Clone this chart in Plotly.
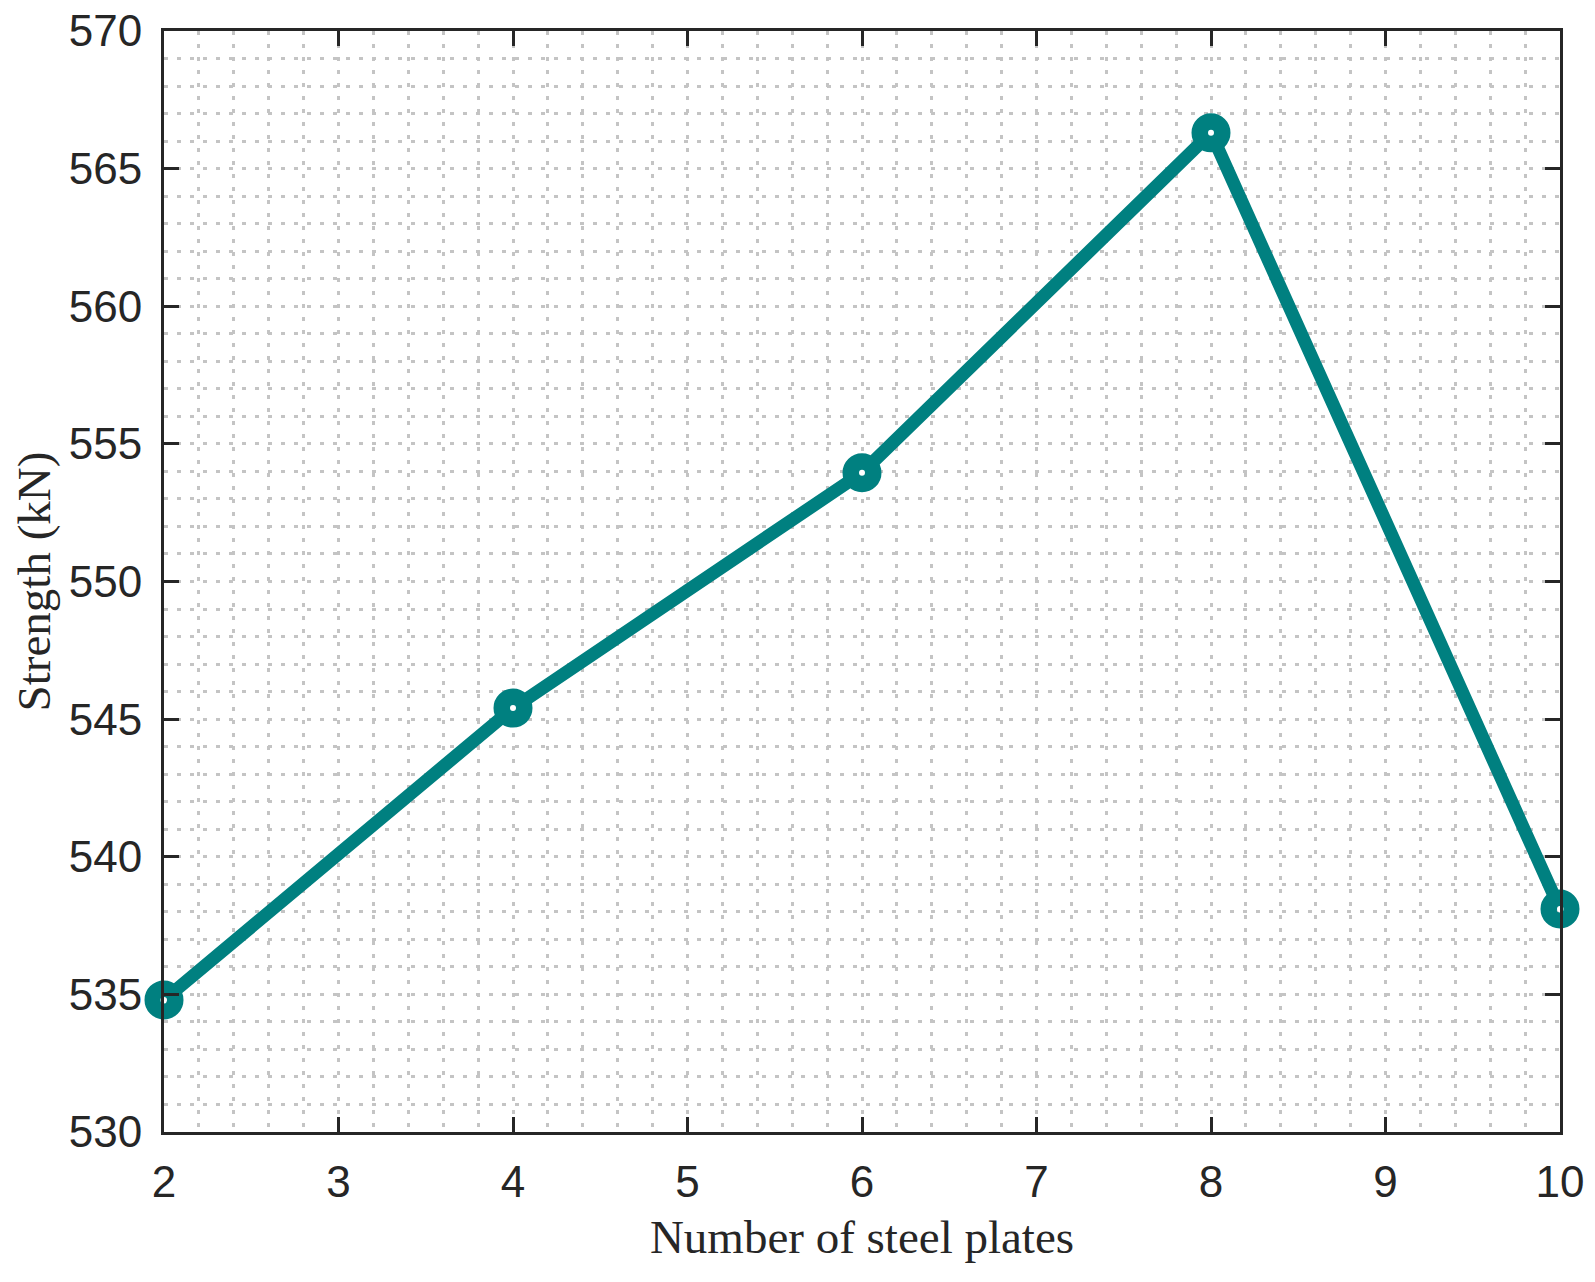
import plotly.graph_objects as go

plates = [2, 4, 6, 8, 10]
strength = [534.8, 545.4, 553.95, 566.3, 538.1]
x_ticks = [2, 3, 4, 5, 6, 7, 8, 9, 10]
y_ticks = [530, 535, 540, 545, 550, 555, 560, 565, 570]

teal = "#008080"
dark = "#262626"
grid = "#c4c4c4"

fig = go.Figure()
fig.add_trace(go.Scatter(
    x=plates, y=strength, mode="lines+markers",
    line=dict(color=teal, width=13),
    marker=dict(symbol="circle-open", size=23, color=teal,
                line=dict(color=teal, width=16)),
    cliponaxis=False, showlegend=False, hoverinfo="skip",
))
fig.add_trace(go.Scatter(
    x=plates, y=strength, mode="markers",
    marker=dict(symbol="circle", size=6, color="white", line=dict(width=0)),
    cliponaxis=False, showlegend=False, hoverinfo="skip",
))

axis_common = dict(
    showline=True, linewidth=3, linecolor=dark, mirror="ticks",
    ticks="inside", ticklen=15, tickwidth=2.5, tickcolor=dark,
    showgrid=True, gridcolor=grid, gridwidth=2.5, griddash="4px,9px",
    zeroline=False, automargin=False, ticklabeloverflow="allow",
    tickfont=dict(family="Liberation Sans, Arial, sans-serif", size=44, color=dark),
)

fig.update_xaxes(
    **axis_common,
    range=[2, 10], tickvals=x_ticks, ticktext=[str(v) for v in x_ticks],
    ticklabelstandoff=9,
    minor=dict(dtick=0.2, tick0=2, showgrid=True, gridcolor=grid, gridwidth=2.5,
               griddash="4px,9px", ticks=""),
    title=dict(text="Number of steel plates", standoff=16,
               font=dict(family="Liberation Serif, Times New Roman, serif", size=47, color=dark)),
)
fig.update_yaxes(
    **axis_common,
    range=[530, 570], tickvals=y_ticks, ticktext=[str(v) for v in y_ticks],
    ticklabelstandoff=10,
    minor=dict(dtick=1, tick0=530, showgrid=True, gridcolor=grid, gridwidth=2.5,
               griddash="4px,9px", ticks=""),
    title=dict(text="Strength (kN)", standoff=4,
               font=dict(family="Liberation Serif, Times New Roman, serif", size=47, color=dark)),
)

fig.update_layout(
    width=1595, height=1282,
    margin=dict(l=164, r=35, t=31, b=150),
    plot_bgcolor="white", paper_bgcolor="white",
)

fig.write_html(
    "out.html",
    config={"displayModeBar": False},
    post_script="document.body.style.margin='0';document.body.style.overflow='hidden';",
)
